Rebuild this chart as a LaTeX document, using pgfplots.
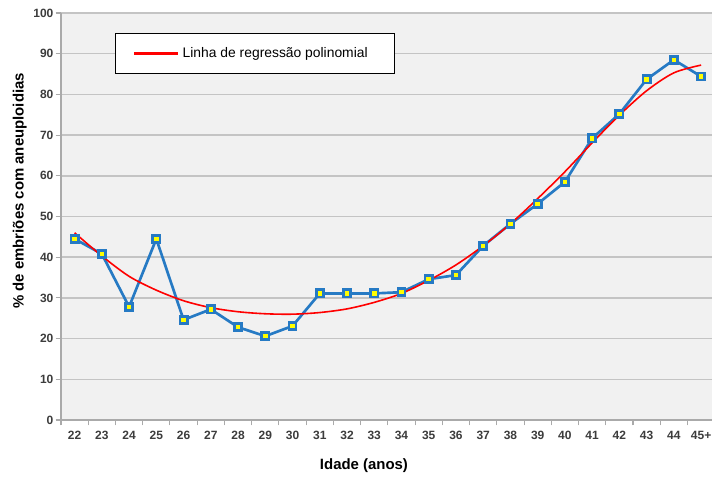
\documentclass[border=0pt]{standalone}
\usepackage{pgfplots}
\pgfplotsset{compat=1.18}
\usepackage{fontspec}
\setmainfont{Liberation Sans}
\usetikzlibrary{calc}
\definecolor{serieblue}{RGB}{38,122,196}
\definecolor{markyellow}{RGB}{255,255,0}
\definecolor{gridgray}{RGB}{196,196,196}
\definecolor{axisgray}{RGB}{170,170,170}
\definecolor{plotbg}{RGB}{241,241,241}
\definecolor{ticktext}{RGB}{60,60,60}
\begin{document}
\begin{tikzpicture}
\begin{axis}[
  name=ax,
  scale only axis,
  width=488.25pt, height=305.25pt,
  xmin=-0.5, xmax=23.4, ymin=0, ymax=100,
  axis background/.style={fill=plotbg},
  axis x line*=bottom, axis y line*=left,
  axis line style={draw=axisgray, line width=0.8pt, -},
  tick align=outside,
  xtick={0,1,...,23},
  xticklabels={22,23,24,25,26,27,28,29,30,31,32,33,34,35,36,37,38,39,40,41,42,43,44,45+},
  major x tick style={draw=none},
  minor xtick={-0.5,0.5,...,22.5},
  minor tick length=4pt,
  minor x tick style={draw=axisgray, line width=0.8pt},
  ytick={0,10,...,100},
  major tick length=4pt,
  major y tick style={draw=axisgray, line width=0.8pt},
  ymajorgrids,
  grid style={draw=gridgray, line width=1.1pt},
  /pgf/number format/assume math mode=true,
  tick label style={font=\fontsize{9}{10}\selectfont\bfseries, text=ticktext},
  yticklabel style={inner sep=0pt, xshift=-1.5pt},
  xticklabel style={yshift=-1pt},
  xlabel={Idade (anos)},
  xlabel style={at={(axis description cs:0.4654,0)}, anchor=center, yshift=-34.5pt, font=\fontsize{11.2}{13}\selectfont\bfseries},
  ylabel={\% de embriões com aneuploidias},
  ylabel style={at={(axis description cs:-0.0635,0.563)}, anchor=center, font=\fontsize{11.2}{13}\selectfont\bfseries},
  legend style={at={(rel axis cs:0.083,0.951)}, anchor=north west, draw=black, line width=0.9pt, fill=white,
    inner xsep=13pt, inner ysep=8.5pt, font=\fontsize{10.4}{12}\selectfont,
    /tikz/every even column/.append style={column sep=4.5pt}},
  legend image code/.code={\draw[#1, line width=2.3pt] (0pt,0pt) -- (33pt,0pt);},
]
\addplot[forget plot, draw=serieblue, line width=2pt, mark=square*,
  mark size=2.7pt, mark options={fill=markyellow, draw=serieblue, line width=2pt}]
  coordinates {
  (0,44.5) (1,40.8) (2,27.8) (3,44.5) (4,24.6) (5,27.2) (6,22.8) (7,20.6)
  (8,23.1) (9,31.1) (10,31.1) (11,31.1) (12,31.4) (13,34.6) (14,35.6) (15,42.8)
  (16,48.2) (17,53.1) (18,58.5) (19,69.2) (20,75.2) (21,83.7) (22,88.5) (23,84.4)
  };
\addplot[draw=red, line width=1.2pt, smooth, mark=none]
  coordinates {
  (0,46.0) (1,40.3) (2,35.3) (3,31.9) (4,29.3) (5,27.6) (6,26.6) (7,26.1)
  (8,26.0) (9,26.4) (10,27.3) (11,28.9) (12,31.1) (13,34.3) (14,38.1) (15,42.8)
  (16,48.2) (17,54.4) (18,61.0) (19,68.1) (20,74.9) (21,80.9) (22,85.3) (23,87.2)
  };
\addlegendentry{Linha de regressão polinomial\hspace*{5.25pt}}
\end{axis}
\pgfresetboundingbox
\path ($(ax.south west)+(-45.75pt,-43.5pt)$) rectangle ($(ax.north east)+(0.75pt,9.75pt)$);
\end{tikzpicture}
\end{document}
